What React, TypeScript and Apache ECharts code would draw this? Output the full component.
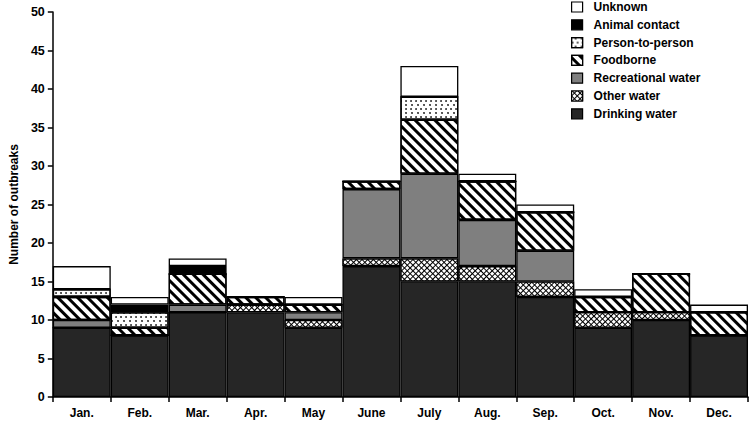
import React, { useEffect, useRef } from "react";
import * as echarts from "echarts";

const months = ["Jan.", "Feb.", "Mar.", "Apr.", "May", "June", "July", "Aug.", "Sep.", "Oct.", "Nov.", "Dec."];
const drinkingWater = [9, 8, 11, 11, 9, 17, 15, 15, 13, 9, 10, 8];
const otherWater = [0, 0, 0, 1, 1, 1, 3, 2, 2, 2, 1, 0];
const recreationalWater = [1, 0, 1, 0, 1, 9, 11, 6, 4, 0, 0, 0];
const foodborne = [3, 1, 4, 1, 1, 1, 7, 5, 5, 2, 5, 3];
const personToPerson = [1, 2, 0, 0, 0, 0, 3, 0, 0, 0, 0, 0];
const animalContact = [0, 1, 1, 0, 0, 0, 0, 0, 0, 0, 0, 0];
const unknown = [3, 1, 1, 0, 1, 0, 4, 1, 1, 1, 0, 1];

const legendOrder = ["Unknown", "Animal contact", "Person-to-person", "Foodborne", "Recreational water", "Other water", "Drinking water"];

const FONT = "Liberation Sans, Arial, sans-serif";

export default function App() {
  const ref = useRef<HTMLDivElement>(null);
  useEffect(() => {
    if (!ref.current) return;
    const chart = echarts.init(ref.current, undefined, { renderer: "svg" });
    const border = { borderColor: "#000", borderWidth: 1.3 };
    const mk = (name: string, data: number[], itemStyle: any) => ({
      name,
      type: "bar",
      stack: "all",
      data,
      barCategoryGap: "0%",
      itemStyle: { ...border, ...itemStyle },
      emphasis: { disabled: true },
    });
    chart.setOption({
      animation: false,
      aria: { enabled: false },
      grid: { left: 47, right: 2, top: 12, bottom: 25, containLabel: false },
      legend: {
        orient: "vertical",
        left: 571,
        top: 1,
        padding: 0,
        icon: "rect",
        itemWidth: 11,
        itemHeight: 10,
        itemGap: 5.8,
        data: legendOrder,
        itemStyle: { borderColor: "#000", borderWidth: 1.2 },
        textStyle: { fontFamily: FONT, fontWeight: "bold", fontSize: 12, lineHeight: 12, color: "#000", padding: [0, 0, 0, 6] },
      },
      xAxis: {
        type: "category",
        data: months,
        axisLine: { lineStyle: { color: "#000", width: 1.5 } },
        axisTick: { show: true, length: 5, lineStyle: { color: "#000", width: 1.5 } },
        axisLabel: { fontFamily: FONT, fontWeight: "bold", fontSize: 12, color: "#000", margin: 10 },
      },
      yAxis: {
        type: "value",
        min: 0,
        max: 50,
        interval: 5,
        name: "Number of outbreaks",
        nameLocation: "middle",
        nameGap: 30,
        nameTextStyle: { fontFamily: FONT, fontWeight: "bold", fontSize: 12, color: "#000" },
        splitLine: { show: false },
        axisLine: { show: true, lineStyle: { color: "#000", width: 1.5 } },
        axisTick: { show: true, length: 5, lineStyle: { color: "#000", width: 1.5 } },
        axisLabel: { fontFamily: FONT, fontWeight: "bold", fontSize: 12.5, color: "#000", margin: 8 },
      },
      series: [
        mk("Drinking water", drinkingWater, { color: "#262626" }),
        mk("Other water", otherWater, {
          color: "#000",
          decal: { symbol: "rect", symbolSize: 1, dashArrayX: [3, 1], dashArrayY: [3, 1], color: "#fff", rotation: Math.PI / 4 },
        }),
        mk("Recreational water", recreationalWater, { color: "#7f7f7f" }),
        mk("Foodborne", foodborne, {
          color: "#fff",
          decal: { symbol: "rect", symbolSize: 1, dashArrayX: [1, 0], dashArrayY: [3, 3.5], rotation: Math.PI / 4, color: "#000" },
        }),
        mk("Person-to-person", personToPerson, {
          color: "#fff",
          decal: { symbol: "circle", symbolSize: 0.8, dashArrayX: [[1.5, 3], [0, 2.25, 1.5, 0.75]], dashArrayY: [1.5, 2], rotation: 0, color: "#000" },
        }),
        mk("Animal contact", animalContact, { color: "#000" }),
        mk("Unknown", unknown, { color: "#fff" }),
      ],
    });
    return () => chart.dispose();
  }, []);
  return <div ref={ref} style={{ width: 750, height: 422, position: "absolute", left: 0, top: 0, background: "#fff" }} />;
}
